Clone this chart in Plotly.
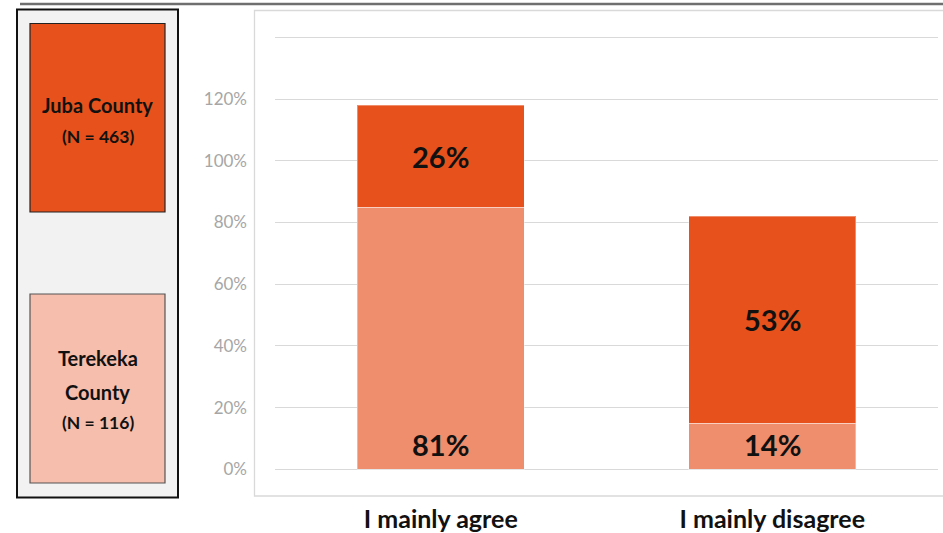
import plotly.graph_objects as go

# ---- data ----
categories = ["I mainly agree", "I mainly disagree"]
terekeka_values = [85, 15]     # bar heights (bottom segment)
juba_values = [33, 67]         # bar heights (top segment)
terekeka_labels = ["81%", "14%"]
juba_labels = ["26%", "53%"]
y_tickvals = [0, 20, 40, 60, 80, 100, 120, 140]
y_ticktext = ["0%", "20%", "40%", "60%", "80%", "100%", "120%", ""]
legend_juba = ["Juba County", "(N = 463)"]
legend_terekeka = ["Terekeka", "County", "(N = 116)"]

W, H = 943, 533
L, R, T, B = 275, 938, 10, 495

def px(x):
    return (x - L) / (R - L)

def py(y):
    return (B - y) / (B - T)

JUBA = "#e7511c"
TERE = "#ef8e6c"
TERE_LEG = "#f6bead"
FONT = "Lato"

fig = go.Figure()
fig.add_trace(go.Bar(x=categories, y=terekeka_values, name="Terekeka County",
                     marker=dict(color=TERE, line=dict(color="rgba(255,255,255,0.35)", width=1)),
                     hoverinfo="skip"))
fig.add_trace(go.Bar(x=categories, y=juba_values, name="Juba County",
                     marker=dict(color=JUBA, line=dict(color="rgba(255,255,255,0.35)", width=1)),
                     hoverinfo="skip"))

annotations = []
for c, lab in zip(categories, terekeka_labels):
    annotations.append(dict(x=c, y=0, xref="x", yref="y", text="<b>%s</b>" % lab,
                            showarrow=False, yanchor="middle", yshift=25,
                            font=dict(family=FONT, size=29, color="#111111")))
for c, b, t, lab in zip(categories, terekeka_values, juba_values, juba_labels):
    annotations.append(dict(x=c, y=b + t / 2, xref="x", yref="y", text="<b>%s</b>" % lab,
                            showarrow=False, yanchor="middle",
                            font=dict(family=FONT, size=29, color="#111111")))

# legend texts
leg_x = px(97.5)
for txt, yc, sz in zip(legend_juba, [105, 136], [20, 17.5]):
    annotations.append(dict(x=leg_x, y=py(yc), xref="paper", yref="paper", text="<b>%s</b>" % txt,
                            showarrow=False, xanchor="center", yanchor="middle",
                            font=dict(family=FONT, size=sz, color="#111111")))
for txt, yc, sz in zip(legend_terekeka, [358, 391.5, 422.5], [20, 20, 17.5]):
    annotations.append(dict(x=leg_x, y=py(yc), xref="paper", yref="paper", text="<b>%s</b>" % txt,
                            showarrow=False, xanchor="center", yanchor="middle",
                            font=dict(family=FONT, size=sz, color="#111111")))

shapes = [
    # top rule
    dict(type="line", xref="paper", yref="paper", x0=px(20), x1=px(945), y0=py(4), y1=py(4),
         line=dict(color="#6f6f6f", width=2.5), layer="above"),
    # inner chart frame
    dict(type="rect", xref="paper", yref="paper", x0=px(254.5), x1=px(946), y0=py(496), y1=py(10.5),
         line=dict(color="#d9d9d9", width=1.3), fillcolor="rgba(0,0,0,0)", layer="below"),
    # legend outer box
    dict(type="rect", xref="paper", yref="paper", x0=px(17), x1=px(178), y0=py(497.5), y1=py(9.5),
         line=dict(color="#111111", width=2), fillcolor="#f2f2f2", layer="above"),
    dict(type="rect", xref="paper", yref="paper", x0=px(30), x1=px(165), y0=py(212), y1=py(23.5),
         line=dict(color="#222222", width=1.2), fillcolor=JUBA, layer="above"),
    dict(type="rect", xref="paper", yref="paper", x0=px(30), x1=px(165), y0=py(483), y1=py(294),
         line=dict(color="#555555", width=1.2), fillcolor=TERE_LEG, layer="above"),
]

fig.update_layout(
    width=W, height=H,
    margin=dict(l=L, r=W - R, t=T, b=H - B, autoexpand=False),
    paper_bgcolor="white", plot_bgcolor="white",
    barmode="stack", bargap=0.496,
    showlegend=False,
    annotations=annotations,
    shapes=shapes,
    xaxis=dict(showgrid=False, showline=False, zeroline=False, ticks="", automargin=False,
               tickfont=dict(family=FONT, size=25, color="#111111"),
               ticklabelstandoff=7,
               tickvals=categories, ticktext=["<b>%s</b>" % c for c in categories]),
    yaxis=dict(range=[-8.33, 148.9], tickvals=y_tickvals, ticktext=y_ticktext, automargin=False,
               showgrid=True, gridcolor="#d9d9d9", gridwidth=1.2, zeroline=False,
               showline=False, ticks="", ticklabelstandoff=27,
               tickfont=dict(family=FONT, size=17, color="#a6a6a6")),
)

fig.write_html("out.html", config={"displayModeBar": False},
               post_script="document.body.style.margin='0';document.body.style.padding='0';")
